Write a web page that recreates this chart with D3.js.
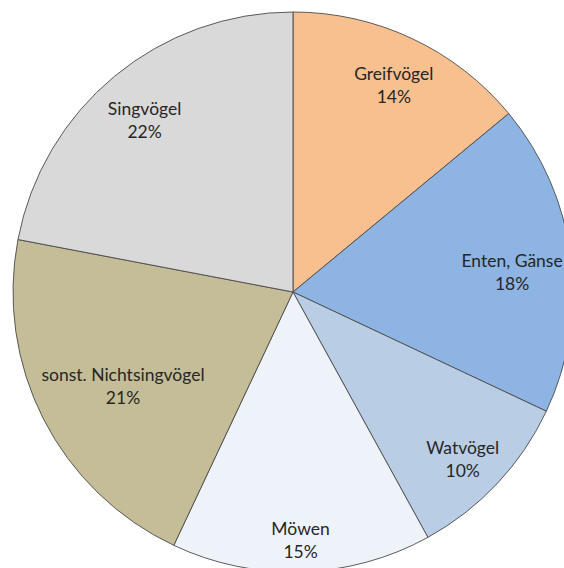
<!DOCTYPE html>
<html>
<head>
<meta charset="utf-8">
<script src="https://cdn.jsdelivr.net/npm/d3@7"></script>
<style>
	body { margin: 0; background: #fff; }
	svg { display: block; }
</style>
</head>
<body>
<svg id="chart" width="564" height="568"></svg>
<script>
// slices, clockwise from 12 o'clock
var categories = ["Greifvögel", "Enten, Gänse", "Watvögel", "Möwen", "sonst. Nichtsingvögel", "Singvögel"];
var shares = [14, 18, 10, 15, 21, 22];
var sliceColors = ["#F9C08F", "#8EB4E3", "#B9CDE5", "#EEF3FA", "#C4BD97", "#D9D9D9"];

var width = 564, height = 568;
var cx = 293, cy = 292, radius = 280;

var svg = d3.select("#chart");
var g = svg.append("g").attr("transform", "translate(" + cx + "," + cy + ")");

var data = categories.map(function(c, i) { return { name: c, value: shares[i], color: sliceColors[i] }; });

var pie = d3.pie().sort(null).value(function(d) { return d.value; });
var arc = d3.arc().innerRadius(0).outerRadius(radius);
var arcs = pie(data);

g.selectAll("path.slice")
	.data(arcs)
	.enter()
	.append("path")
	.attr("class", "slice")
	.attr("d", arc)
	.style("fill", function(d) { return d.data.color; })
	.style("stroke", "#4a4a4a")
	.style("stroke-width", 0.9);

// labels: start near the rim and move inward until the text box fits in the circle
var lineH = 23, pad = 4;
var labels = g.selectAll("g.label")
	.data(arcs)
	.enter()
	.append("g")
	.attr("class", "label");

labels.append("text")
	.attr("class", "name")
	.attr("text-anchor", "middle")
	.attr("y", -lineH / 2 + 6)
	.text(function(d) { return d.data.name; });

labels.append("text")
	.attr("class", "pct")
	.attr("text-anchor", "middle")
	.attr("y", lineH / 2 + 6)
	.text(function(d) { return d.data.value + "%"; });

labels.selectAll("text")
	.style("font-family", "Lato, 'Open Sans', sans-serif")
	.style("font-size", "17.5px")
	.style("fill", "#262626");

labels.attr("transform", function(d) {
	var w = 0;
	d3.select(this).selectAll("text").each(function() { w = Math.max(w, this.getComputedTextLength()); });
	var h = lineH * 2;
	var a = (d.startAngle + d.endAngle) / 2;
	var r = radius * 0.86;
	for (; r > 0; r -= 2) {
		var x = r * Math.sin(a), y = -r * Math.cos(a);
		var fits = [[-1, -1], [1, -1], [-1, 1], [1, 1]].every(function(s) {
			var px = x + s[0] * w / 2, py = y + s[1] * h / 2;
			return Math.sqrt(px * px + py * py) <= radius - pad;
		});
		if (fits) break;
	}
	return "translate(" + (r * Math.sin(a)) + "," + (-r * Math.cos(a) + 8) + ")";
});
</script>
</body>
</html>
